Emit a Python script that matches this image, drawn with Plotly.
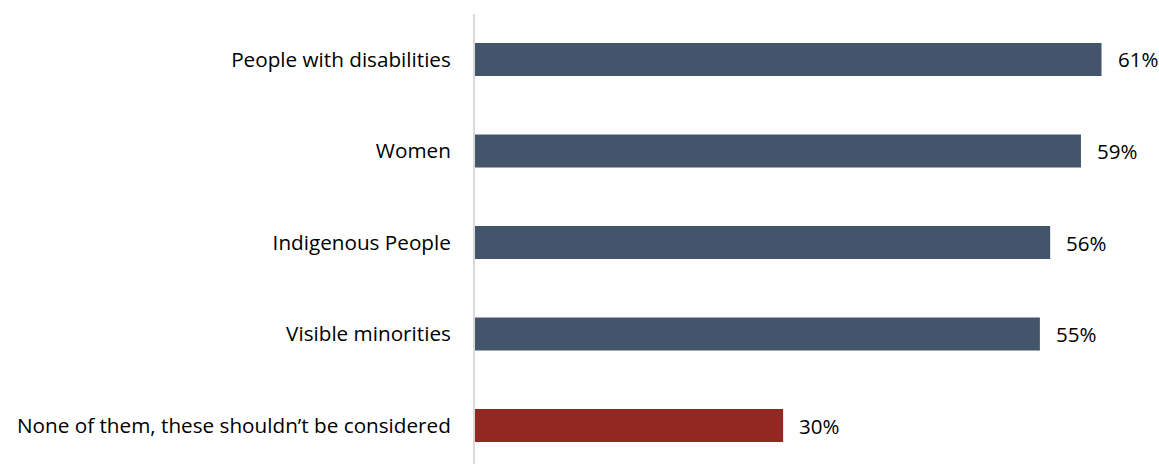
import plotly.graph_objects as go

categories = [
    "People with disabilities",
    "Women",
    "Indigenous People",
    "Visible minorities",
    "None of them, these shouldn\u2019t be considered",
]
values = [61, 59, 56, 55, 30]
bar_colors = ["#44546A", "#44546A", "#44546A", "#44546A", "#922822"]

FONT = "Open Sans, Calibri, sans-serif"
FONT_SIZE = 20.7

fig = go.Figure(
    go.Bar(
        x=values,
        y=categories,
        orientation="h",
        marker=dict(color=bar_colors, line=dict(width=0)),
        hoverinfo="skip",
    )
)

for cat, val in zip(categories, values):
    fig.add_annotation(
        x=val, y=cat, text=f"{val}%", showarrow=False,
        xanchor="left", xshift=14,
        font=dict(family=FONT, size=20.5, color="#000000"),
    )

fig.update_layout(
    width=1159, height=464,
    margin=dict(l=475, r=1, t=14, b=0),
    paper_bgcolor="white", plot_bgcolor="white",
    bargap=0.64,
    showlegend=False,
    font=dict(family=FONT, size=FONT_SIZE, color="#000000"),
)
fig.update_xaxes(range=[0, 66.5], visible=False, fixedrange=True)
fig.update_yaxes(
    type="category",
    range=[4.42, -0.497],
    showline=True, linecolor="#d9d9d9", linewidth=2,
    showgrid=False, zeroline=False,
    ticks="", ticklabelstandoff=18,
    tickfont=dict(family=FONT, size=FONT_SIZE, color="#000000"),
    fixedrange=True,
)

fig.write_html("out.html")
